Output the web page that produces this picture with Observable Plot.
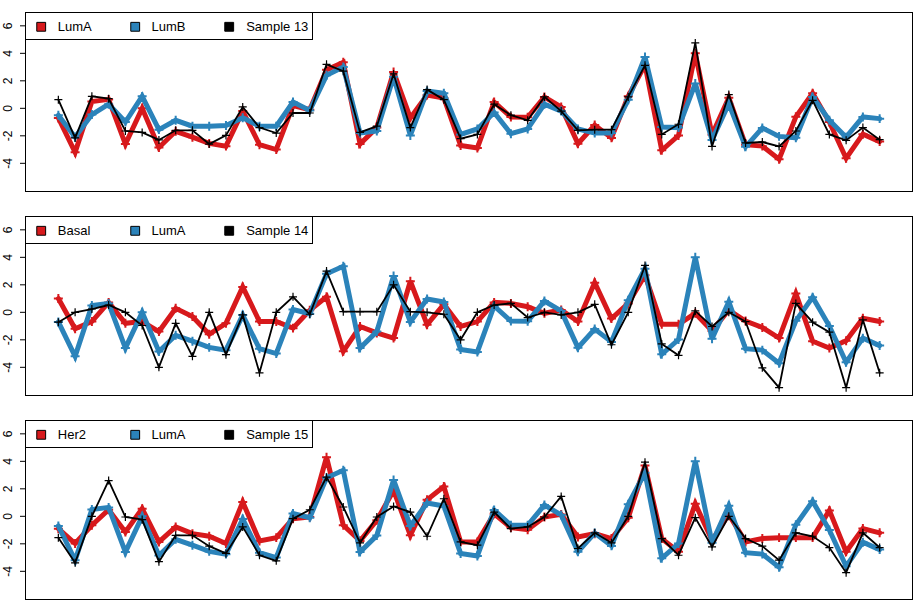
<!DOCTYPE html>
<html>
<head>
<meta charset="utf-8">
<script src="https://cdn.jsdelivr.net/npm/d3@7"></script>
<script src="https://cdn.jsdelivr.net/npm/@observablehq/plot@0.6"></script>
<style>
  html, body { margin: 0; padding: 0; background: #fff; }
  #chart { width: 913px; }
  #chart svg { display: block; }
</style>
</head>
<body>
<div id="chart"></div>
<script>
// ---- data ----
const positions = d3.range(1, 51);
const yTicks = [-4, -2, 0, 2, 4, 6];

const LumA = [-0.7, -3.2, 0.5, 0.65, -2.6, 0, -2.85, -1.67, -2.1, -2.55,
  -2.75, -0.2, -2.65, -3.0, 0.2, -0.1, 2.8, 3.35, -2.6, -1.4,
  2.65, -0.7, 0.97, 0.75, -2.7, -2.88, 0.46, -0.64, -0.65, 0.82,
  0.1, -2.57, -1.22, -2.15, 0.88, 3.17, -3.05, -1.98, 4.0, -1.92,
  0.77, -2.65, -2.75, -3.7, -0.62, 1.1, -1.0, -3.63, -1.88, -2.42];

const LumB = [-0.5, -2.1, -0.45, 0.3, -1.0, 0.87, -1.55, -0.87, -1.3, -1.3,
  -1.25, -0.68, -1.3, -1.3, 0.46, -0.15, 2.4, 3.0, -1.8, -1.65,
  2.3, -1.97, 1.26, 1.1, -1.9, -1.5, -0.3, -1.85, -1.5, 0.3,
  -0.2, -1.5, -1.8, -1.8, 0.63, 3.74, -1.36, -1.4, 1.8, -2.3,
  0.34, -2.8, -1.43, -2.04, -2.14, 0.83, -0.87, -2.1, -0.63, -0.75];

const Sample13 = [0.63, -2.15, 0.87, 0.7, -1.65, -1.75, -2.3, -1.6, -1.6, -2.6,
  -1.97, 0.1, -1.4, -1.8, -0.34, -0.34, 3.2, 2.7, -1.75, -1.3,
  2.5, -1.4, 1.36, 0.63, -2.2, -1.9, 0.3, -0.5, -0.87, 0.83,
  -0.2, -1.6, -1.55, -1.55, 0.83, 3.13, -1.9, -1.16, 4.76, -2.77,
  1.0, -2.52, -2.45, -2.77, -1.65, 0.58, -1.9, -2.33, -1.4, -2.28];

const Basal = [1.0, -1.2, -0.67, 0.72, -0.8, -0.67, -1.4, 0.29, -0.31, -1.6,
  -0.8, 1.85, -0.67, -0.67, -1.15, 0.15, 1.13, -2.84, -1.03, -1.5,
  -1.87, 2.26, -0.9, 0.58, -1.03, -0.67, 0.72, 0.65, 0.41, -0.07,
  0.17, -0.67, 2.16, -0.45, 0.65, 2.7, -0.87, -0.87, -0.07, -1.35,
  0.17, -0.63, -1.1, -1.87, 1.37, -2.1, -2.6, -2.07, -0.43, -0.67];

const Sample14 = [-0.72, 0, 0.24, 0.53, 0, -0.96, -4.0, -0.8, -3.2, 0,
  -3.08, -0.19, -4.4, 0, 1.13, -0.14, 3.0, 0.05, 0.05, 0.05,
  2.0, 0.05, 0, -0.14, -2.0, 0, 0.53, 0.65, -0.38, 0,
  -0.19, 0, 0.58, -2.36, 0, 3.41, -2.3, -3.13, 0.1, -1.03,
  0, -0.67, -4.04, -5.48, 0.65, -0.72, -1.44, -5.48, -0.55, -4.4];

const Her2 = [-0.9, -1.98, -0.65, 0.48, -1.14, 0.56, -1.86, -0.77, -1.26, -1.45,
  -1.98, 1.04, -1.79, -1.55, -0.17, -0.05, 4.3, -0.65, -1.79, -0.29,
  1.88, -1.38, 1.2, 2.17, -1.86, -1.86, 0.19, -0.82, -0.97, -0.05,
  0.14, -1.5, -1.26, -1.62, -0.1, 3.7, -1.62, -2.58, 0.92, -1.74,
  0.14, -1.86, -1.62, -1.55, -1.55, -1.55, 0.43, -2.58, -0.89, -1.2];

const Sample15 = [-1.55, -3.38, 0, 2.6, -0.05, -0.24, -3.3, -1.38, -1.38, -2.17,
  -2.7, -0.77, -2.83, -3.24, -0.17, 0.48, 2.85, 0.68, -1.93, -0.05,
  0.72, 0.31, -1.45, 1.28, -1.86, -2.1, 0.31, -0.89, -0.77, -0.05,
  1.45, -2.34, -1.2, -1.93, 0, 3.94, -1.62, -2.83, -0.1, -2.22,
  0, -1.62, -2.17, -3.19, -1.2, -1.45, -2.27, -4.1, -1.2, -2.27];

const panels = [
  {names: ["LumA", "LumB", "Sample 13"], series: [LumA, LumB, Sample13]},
  {names: ["Basal", "LumA", "Sample 14"], series: [Basal, LumA, Sample14]},
  {names: ["Her2", "LumA", "Sample 15"], series: [Her2, LumA, Sample15]}
];

// ---- styles ----
const RED = "#d7191c", BLUE = "#2b83ba", BLACK = "#000000";
const colors = [RED, BLUE, BLACK];
const widths = [5, 5, 1.8];
const FONT = "Liberation Sans, Arial, Helvetica, sans-serif";

const n = positions.length;
const pad = 0.04 * (n - 1);

function panel(p) {
  const marks = [];
  p.series.forEach((vals, k) => {
    const rows = positions.map((x, i) => ({x, y: vals[i]}));
    marks.push(Plot.line(rows, {x: "x", y: "y", stroke: colors[k], strokeWidth: widths[k], strokeLinejoin: "miter", strokeMiterlimit: 3}));
    marks.push(Plot.dot(rows, {x: "x", y: "y", symbol: "plus", r: k === 2 ? 2.7 : 3, stroke: colors[k], strokeWidth: k === 2 ? 1.2 : 2}));
  });
  marks.push(Plot.frame({stroke: "black", strokeWidth: 1}));
  // y axis ticks and rotated labels
  marks.push(Plot.axisY({ticks: yTicks, tickSize: 5, tickFormat: () => "", label: null, stroke: "black"}));
  marks.push(Plot.text(yTicks, {y: d => d, text: d => String(d), frameAnchor: "left", dx: -17, rotate: -90, textAnchor: "middle", lineAnchor: "middle", fontSize: 12, fill: "black"}));
  // legend box
  marks.push(Plot.frame({fill: "white", stroke: "black", strokeWidth: 1, insetRight: 600, insetBottom: 152}));
  const sqDx = [15.7, 109.7, 203.7];
  const txDx = [32.3, 126, 220.7];
  p.names.forEach((name, k) => {
    marks.push(Plot.dot([name], {frameAnchor: "top-left", dx: sqDx[k], dy: 14.3, symbol: "square", r: 5, fill: colors[k], stroke: "black", strokeWidth: 1}));
    marks.push(Plot.text([name], {text: d => d, frameAnchor: "top-left", dx: txDx[k], dy: 14.5, textAnchor: "start", lineAnchor: "middle", fontSize: 13, fill: "black"}));
  });
  return Plot.plot({
    width: 913,
    height: 204,
    marginLeft: 25,
    marginRight: 1,
    marginTop: 12,
    marginBottom: 13,
    style: {fontFamily: FONT, background: "white", color: "black"},
    x: {domain: [1 - pad, n + pad], axis: null},
    y: {domain: [-6.05, 6.97], axis: null, label: null},
    marks
  });
}

const root = document.getElementById("chart");
panels.forEach(p => root.appendChild(panel(p)));
</script>
</body>
</html>
